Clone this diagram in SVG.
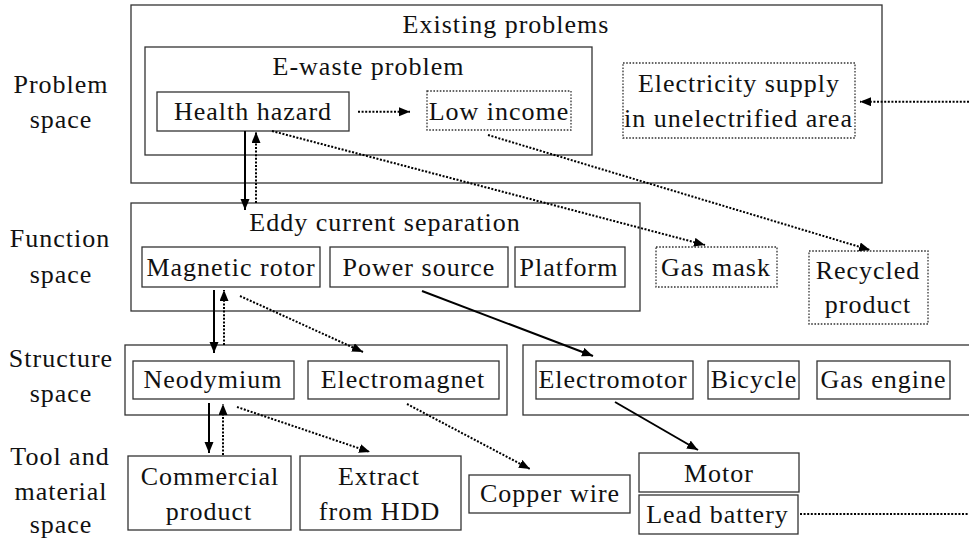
<svg xmlns="http://www.w3.org/2000/svg" width="969" height="539" viewBox="0 0 969 539">
<defs>
<marker id="ah" markerUnits="userSpaceOnUse" markerWidth="12" markerHeight="10" refX="11" refY="4.5" orient="auto">
<path d="M0,0 L11,4.5 L0,9 z" fill="#000"/>
</marker>
</defs>
<rect width="969" height="539" fill="#fff"/>
<g font-family="Liberation Serif, serif" font-size="26" letter-spacing="1" fill="#111" text-anchor="middle">
<g id="labels">
<text font-family="Liberation Serif" x="61" y="93">Problem</text>
<text font-family="Liberation Serif" x="61" y="128">space</text>
<text font-family="Liberation Serif" x="60" y="247">Function</text>
<text font-family="Liberation Serif" x="61" y="283">space</text>
<text font-family="Liberation Serif" x="61" y="367">Structure</text>
<text font-family="Liberation Serif" x="61" y="402">space</text>
<text font-family="Liberation Serif" x="60" y="465">Tool and</text>
<text font-family="Liberation Serif" x="61" y="500">material</text>
<text font-family="Liberation Serif" x="61" y="533">space</text>
</g>
<g id="existing-problems">
<rect fill="none" stroke="#333" stroke-width="1.3" x="131" y="5" width="751" height="178"/>
<text font-family="Liberation Serif" x="506" y="33">Existing problems</text>
</g>
<g id="e-waste-problem">
<rect fill="none" stroke="#333" stroke-width="1.3" x="145" y="47" width="447" height="108"/>
<text font-family="Liberation Serif" x="368.5" y="75">E-waste problem</text>
</g>
<g id="health-hazard">
<rect fill="none" stroke="#333" stroke-width="1.3" x="157" y="92" width="192" height="39"/>
<text font-family="Liberation Serif" x="253" y="120">Health hazard</text>
</g>
<g id="low-income">
<rect fill="none" stroke="#333" stroke-width="1.3" stroke-dasharray="1.6 1.6" x="427" y="91" width="144" height="39"/>
<text font-family="Liberation Serif" x="499" y="120">Low income</text>
</g>
<g id="electricity-supply">
<rect fill="none" stroke="#333" stroke-width="1.3" stroke-dasharray="1.6 1.6" x="623" y="63" width="232" height="75"/>
<text font-family="Liberation Serif" x="739" y="92">Electricity supply</text>
<text font-family="Liberation Serif" x="738.5" y="127">in unelectrified area</text>
</g>
<g id="eddy-current-separation">
<rect fill="none" stroke="#333" stroke-width="1.3" x="131" y="203" width="509" height="108"/>
<text font-family="Liberation Serif" x="385" y="231">Eddy current separation</text>
</g>
<g id="magnetic-rotor">
<rect fill="none" stroke="#333" stroke-width="1.3" x="142" y="247" width="178" height="40"/>
<text font-family="Liberation Serif" x="231" y="276">Magnetic rotor</text>
</g>
<g id="power-source">
<rect fill="none" stroke="#333" stroke-width="1.3" x="330" y="247" width="178" height="40"/>
<text font-family="Liberation Serif" x="419" y="276">Power source</text>
</g>
<g id="platform">
<rect fill="none" stroke="#333" stroke-width="1.3" x="515" y="247" width="110" height="40"/>
<text font-family="Liberation Serif" x="569" y="276">Platform</text>
</g>
<g id="gas-mask">
<rect fill="none" stroke="#333" stroke-width="1.3" stroke-dasharray="1.6 1.6" x="656" y="247" width="121" height="40"/>
<text font-family="Liberation Serif" x="716" y="276">Gas mask</text>
</g>
<g id="recycled-product">
<rect fill="none" stroke="#333" stroke-width="1.3" stroke-dasharray="1.6 1.6" x="809" y="251" width="119" height="73"/>
<text font-family="Liberation Serif" x="868" y="279">Recycled</text>
<text font-family="Liberation Serif" x="868" y="313">product</text>
</g>
<g id="structure-left">
<rect fill="none" stroke="#333" stroke-width="1.3" x="125" y="345" width="382" height="70"/>
</g>
<g id="structure-right">
<rect fill="none" stroke="#333" stroke-width="1.3" x="523" y="345" width="470" height="70"/>
</g>
<g id="neodymium">
<rect fill="none" stroke="#333" stroke-width="1.3" x="133" y="361" width="161" height="38"/>
<text font-family="Liberation Serif" x="213" y="388">Neodymium</text>
</g>
<g id="electromagnet">
<rect fill="none" stroke="#333" stroke-width="1.3" x="308" y="361" width="191" height="38"/>
<text font-family="Liberation Serif" x="403" y="388">Electromagnet</text>
</g>
<g id="electromotor">
<rect fill="none" stroke="#333" stroke-width="1.3" x="536" y="361" width="157" height="38"/>
<text font-family="Liberation Serif" x="613" y="388">Electromotor</text>
</g>
<g id="bicycle">
<rect fill="none" stroke="#333" stroke-width="1.3" x="708" y="361" width="91" height="38"/>
<text font-family="Liberation Serif" x="754" y="388">Bicycle</text>
</g>
<g id="gas-engine">
<rect fill="none" stroke="#333" stroke-width="1.3" x="817" y="361" width="133" height="38"/>
<text font-family="Liberation Serif" x="883.5" y="388">Gas engine</text>
</g>
<g id="commercial-product">
<rect fill="none" stroke="#333" stroke-width="1.3" x="128" y="456" width="163" height="74"/>
<text font-family="Liberation Serif" x="210" y="485">Commercial</text>
<text font-family="Liberation Serif" x="209" y="520">product</text>
</g>
<g id="extract-from-hdd">
<rect fill="none" stroke="#333" stroke-width="1.3" x="300" y="456" width="161" height="74"/>
<text font-family="Liberation Serif" x="379" y="485">Extract</text>
<text font-family="Liberation Serif" x="379.5" y="520">from HDD</text>
</g>
<g id="copper-wire">
<rect fill="none" stroke="#333" stroke-width="1.3" x="469" y="475" width="161" height="38"/>
<text font-family="Liberation Serif" x="550" y="502">Copper wire</text>
</g>
<g id="motor">
<rect fill="none" stroke="#333" stroke-width="1.3" x="639" y="453" width="160" height="39"/>
<text font-family="Liberation Serif" x="719" y="482">Motor</text>
</g>
<g id="lead-battery">
<rect fill="none" stroke="#333" stroke-width="1.3" x="639" y="495" width="159" height="39"/>
<text font-family="Liberation Serif" x="717.5" y="523">Lead battery</text>
</g>
</g>
<g id="connectors" fill="none" stroke="#000" stroke-width="2">
<g stroke-dasharray="2 1.6">
<line x1="358" y1="111.7" x2="410" y2="111.7" marker-end="url(#ah)"/>
<line x1="969" y1="101.7" x2="860" y2="101.7" marker-end="url(#ah)"/>
<line x1="256" y1="203" x2="256" y2="132" marker-end="url(#ah)"/>
<line x1="272" y1="131" x2="705" y2="245" marker-end="url(#ah)"/>
<line x1="488" y1="135" x2="870" y2="250" marker-end="url(#ah)"/>
<line x1="224" y1="345" x2="224" y2="290" marker-end="url(#ah)"/>
<line x1="240" y1="296" x2="363" y2="352" marker-end="url(#ah)"/>
<line x1="223" y1="455" x2="223" y2="404" marker-end="url(#ah)"/>
<line x1="237" y1="407" x2="370" y2="452" marker-end="url(#ah)"/>
<line x1="407" y1="404" x2="530" y2="469" marker-end="url(#ah)"/>
<line x1="800" y1="514" x2="969" y2="514"/>
</g>
<line x1="245" y1="131" x2="245" y2="210" marker-end="url(#ah)"/>
<line x1="214" y1="290" x2="214" y2="353" marker-end="url(#ah)"/>
<line x1="422" y1="291" x2="593" y2="356" marker-end="url(#ah)"/>
<line x1="209" y1="403" x2="209" y2="453" marker-end="url(#ah)"/>
<line x1="615" y1="402" x2="698" y2="450" marker-end="url(#ah)"/>
</g>
</svg>
